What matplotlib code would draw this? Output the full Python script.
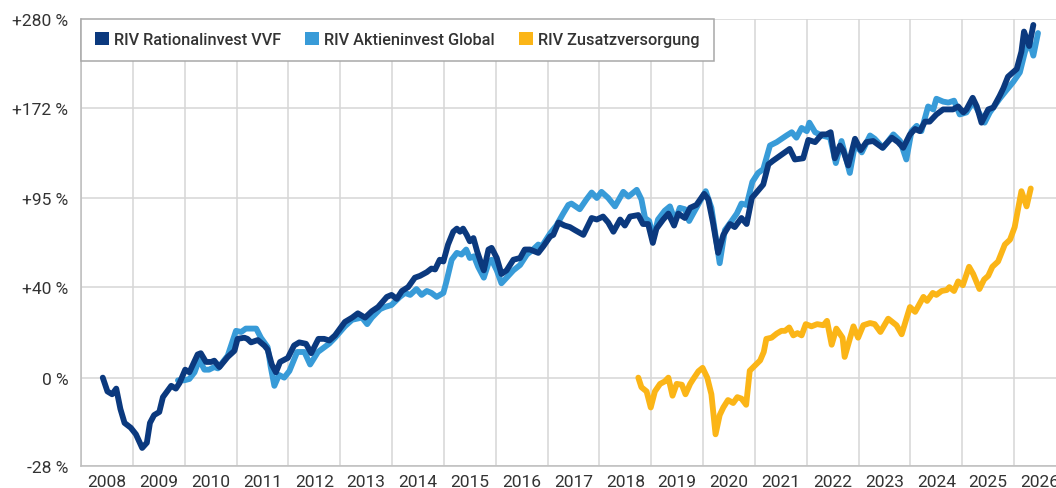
import matplotlib
matplotlib.use("Agg")
import matplotlib.pyplot as plt
from matplotlib.patches import Patch
import numpy as np

# Wertentwicklung in %, Zeitachse als Dezimaljahr
rat_t = [2008.42, 2008.51, 2008.60, 2008.68, 2008.76, 2008.84, 2008.96, 2009.06, 2009.18, 2009.27,
         2009.33, 2009.41, 2009.51, 2009.58, 2009.74, 2009.83, 2009.90, 2010.01, 2010.09, 2010.25,
         2010.31, 2010.41, 2010.51, 2010.57, 2010.67, 2010.83, 2010.96, 2011.02, 2011.15, 2011.21,
         2011.28, 2011.41, 2011.54, 2011.60, 2011.68, 2011.76, 2011.84, 2011.99, 2012.11, 2012.21,
         2012.34, 2012.44, 2012.58, 2012.69, 2012.79, 2012.90, 2013.09, 2013.23, 2013.34, 2013.48,
         2013.61, 2013.73, 2013.90, 2013.99, 2014.09, 2014.19, 2014.31, 2014.44, 2014.54, 2014.67,
         2014.76, 2014.83, 2014.92, 2014.99, 2015.08, 2015.18, 2015.25, 2015.31, 2015.37, 2015.44,
         2015.50, 2015.57, 2015.64, 2015.73, 2015.77, 2015.86, 2015.92, 2016.02, 2016.11, 2016.21,
         2016.34, 2016.47, 2016.56, 2016.66, 2016.82, 2016.92, 2017.05, 2017.11, 2017.21, 2017.33,
         2017.43, 2017.53, 2017.69, 2017.85, 2017.95, 2018.07, 2018.17, 2018.27, 2018.40, 2018.49,
         2018.59, 2018.75, 2018.84, 2018.94, 2019.03, 2019.10, 2019.23, 2019.33, 2019.44, 2019.52,
         2019.65, 2019.75, 2019.87, 2020.02, 2020.10, 2020.19, 2020.29, 2020.39, 2020.52, 2020.61,
         2020.74, 2020.84, 2020.94, 2021.03, 2021.16, 2021.26, 2021.35, 2021.48, 2021.67, 2021.77,
         2021.93, 2022.03, 2022.16, 2022.29, 2022.38, 2022.46, 2022.54, 2022.64, 2022.70, 2022.80,
         2022.93, 2023.04, 2023.15, 2023.28, 2023.46, 2023.64, 2023.76, 2023.86, 2023.99, 2024.09,
         2024.18, 2024.28, 2024.37, 2024.50, 2024.63, 2024.82, 2024.92, 2025.02, 2025.08, 2025.20,
         2025.28, 2025.37, 2025.50, 2025.60, 2025.72, 2025.79, 2025.88, 2026.05, 2026.14, 2026.19,
         2026.29, 2026.37]
rat_v = [0, -5, -6, -4, -11, -15.5, -17, -19, -23, -21.5,
         -15.5, -13, -12, -7, -3, -4, -2, 3, 2, 9,
         9.5, 6, 6, 6.5, 4, 8, 10.5, 15.5, 16, 15.5,
         14, 15, 12.6, 11, 5, 2, 6, 7.6, 12.7, 14,
         13.4, 9.5, 15.5, 15.5, 14.8, 17, 23, 25, 27, 25,
         28, 30, 35, 36, 34, 38, 40, 45, 46, 48,
         50, 49.5, 55, 54, 64, 72, 74, 72, 74, 70,
         66, 68, 60, 52, 49, 61, 62, 56, 47, 49,
         55, 56, 61, 61, 59, 63, 69, 70, 78, 76,
         75, 73, 70, 81, 80, 82, 78, 72, 80, 76,
         82, 83, 77, 77, 65, 74, 80, 84, 76, 84,
         81, 88, 90, 98, 94, 78, 59, 70, 77, 75,
         81, 77, 95, 99, 105, 121, 124, 128, 134, 125,
         126, 142, 140, 147, 147, 149, 126, 137, 133, 120,
         143, 133, 140, 141, 135, 144, 140, 135, 147, 152,
         150, 159, 159, 166, 171, 171, 174, 168, 171, 183,
         174, 158, 171, 173, 185, 193, 206, 215, 236, 262,
         243, 271]

akt_t = [2009.87, 2009.99, 2010.09, 2010.19, 2010.28, 2010.38, 2010.47, 2010.57, 2010.64, 2010.83,
         2010.99, 2011.09, 2011.18, 2011.38, 2011.47, 2011.60, 2011.66, 2011.73, 2011.82, 2011.92,
         2012.02, 2012.17, 2012.31, 2012.42, 2012.57, 2012.79, 2012.90, 2013.09, 2013.23, 2013.42,
         2013.52, 2013.61, 2013.77, 2013.86, 2013.99, 2014.15, 2014.25, 2014.35, 2014.47, 2014.57,
         2014.67, 2014.76, 2014.86, 2014.99, 2015.05, 2015.15, 2015.25, 2015.34, 2015.43, 2015.50,
         2015.58, 2015.66, 2015.77, 2015.86, 2015.92, 2016.02, 2016.11, 2016.21, 2016.34, 2016.47,
         2016.60, 2016.72, 2016.82, 2016.89, 2017.05, 2017.17, 2017.30, 2017.40, 2017.46, 2017.62,
         2017.75, 2017.85, 2017.95, 2018.04, 2018.17, 2018.30, 2018.46, 2018.56, 2018.72, 2018.81,
         2018.88, 2018.96, 2019.04, 2019.13, 2019.26, 2019.36, 2019.46, 2019.55, 2019.65, 2019.73,
         2019.87, 2020.05, 2020.16, 2020.26, 2020.32, 2020.42, 2020.55, 2020.65, 2020.74, 2020.84,
         2020.95, 2021.06, 2021.16, 2021.29, 2021.42, 2021.61, 2021.71, 2021.80, 2021.90, 2022.00,
         2022.05, 2022.16, 2022.29, 2022.45, 2022.56, 2022.67, 2022.83, 2022.93, 2023.06, 2023.22,
         2023.31, 2023.47, 2023.67, 2023.80, 2023.92, 2024.02, 2024.12, 2024.21, 2024.34, 2024.44,
         2024.50, 2024.63, 2024.73, 2024.84, 2024.95, 2025.08, 2025.21, 2025.34, 2025.43, 2025.53,
         2025.72, 2025.85, 2025.98, 2026.11, 2026.21, 2026.30, 2026.37, 2026.46]
akt_v = [-1, -1, -0.5, 2, 7, 3, 3, 4, 3.5, 8.5,
         19, 18.5, 20, 20, 16, 12, 4, -3, 1, 0,
         2.5, 10, 10, 5, 10, 13.5, 16, 21, 24, 25,
         22, 25, 29, 30, 31, 35, 37, 36, 39, 36,
         38, 37, 35, 37, 43, 55, 59, 58, 61, 56,
         57, 51, 45, 53, 55, 49, 42, 45, 49, 52,
         58, 61, 64, 63, 71, 76, 84, 90, 91, 87,
         94, 99, 95, 99.5, 95, 89, 99.5, 96, 101, 94,
         81, 79, 68, 80, 86, 89, 79, 88, 87, 79,
         88, 100, 88, 65, 53, 73, 79, 84, 91, 90,
         107, 114, 117, 137, 140, 146, 149, 144, 153, 150,
         158, 149, 146, 144, 122, 141, 114, 138, 131, 146,
         143, 135, 147, 141, 125, 150, 155, 150, 174, 171,
         182, 179, 178, 180, 166, 168, 179, 166, 158, 168,
         182, 191, 200, 211, 236, 248, 231, 260]

zus_t = [2018.75, 2018.81, 2018.91, 2018.99, 2019.07, 2019.17, 2019.26, 2019.33, 2019.41, 2019.49,
         2019.59, 2019.66, 2019.75, 2019.81, 2019.91, 2019.99, 2020.08, 2020.16, 2020.24, 2020.32,
         2020.39, 2020.48, 2020.58, 2020.66, 2020.74, 2020.83, 2020.90, 2021.00, 2021.10, 2021.17,
         2021.22, 2021.32, 2021.42, 2021.51, 2021.58, 2021.66, 2021.74, 2021.82, 2021.90, 2021.98,
         2022.09, 2022.20, 2022.32, 2022.39, 2022.48, 2022.57, 2022.69, 2022.73, 2022.90, 2022.99,
         2023.09, 2023.22, 2023.31, 2023.42, 2023.57, 2023.73, 2023.83, 2023.99, 2024.09, 2024.25,
         2024.32, 2024.43, 2024.50, 2024.60, 2024.70, 2024.75, 2024.84, 2024.92, 2025.01, 2025.13,
         2025.21, 2025.33, 2025.42, 2025.50, 2025.58, 2025.69, 2025.82, 2025.92, 2026.01, 2026.14,
         2026.24, 2026.32]
zus_v = [0, -3.5, -5, -10.5, -5, -2.3, -1.4, 0, -6.5, -2.3,
         -2.6, -6, -2.3, -0.5, 2.4, 3.7, 0, -6, -19, -13,
         -10.5, -8, -9, -7, -7.5, -9.6, 2.6, 4.6, 6.6, 10,
         15.5, 16, 17.8, 19, 19, 20.5, 17, 18, 17, 22,
         21, 22, 21.5, 23.5, 13, 20, 16, 8, 21, 16,
         21.5, 22.5, 22, 18.5, 24.5, 21.5, 17.5, 30, 27.7, 35,
         33, 37, 36, 38, 38.5, 40, 38, 43, 41, 51,
         47, 39, 44, 46, 51, 54, 64, 67, 75, 100,
         89, 102]

names = ["RIV Rationalinvest VVF", "RIV Aktieninvest Global", "RIV Zusatzversorgung"]
colors = ["#0b397e", "#389bd8", "#fbb517"]

ytick_vals = [-28, 0, 40, 95, 172, 280]
ytick_labels = ["-28 %", "0 %", "+40 %", "+95 %", "+172 %", "+280 %"]
years = list(range(2008, 2027))

plt.rcParams['font.family'] = ['Roboto', 'DejaVu Sans']

fig = plt.figure(figsize=(10.56, 4.89), dpi=100)
ax = fig.add_axes([81 / 1056, 22 / 489, 985 / 1056, 447.5 / 489])

def f(v):
    return 1 + np.array(v) / 100.0

lw = 4.2
ax.plot(akt_t, f(akt_v), color=colors[1], lw=lw, solid_joinstyle='round', solid_capstyle='round', zorder=3)
ax.plot(rat_t, f(rat_v), color=colors[0], lw=lw, solid_joinstyle='round', solid_capstyle='round', zorder=4)
ax.plot(zus_t, f(zus_v), color=colors[2], lw=lw, solid_joinstyle='round', solid_capstyle='round', zorder=4)

ax.set_yscale('log')
ax.set_ylim(f(-28), f(280))
ax.set_yticks(f(ytick_vals))
ax.set_yticklabels(ytick_labels)
ax.yaxis.set_minor_locator(matplotlib.ticker.NullLocator())

ax.set_xlim(2008, 2027)
ax.set_xticks(range(2008, 2028))
ax.set_xticklabels([])
ax.set_xticks([y + 0.5 for y in years], minor=True)
ax.set_xticklabels([str(y) for y in years], minor=True)

ax.tick_params(axis='both', which='both', length=0, labelsize=12.5, labelcolor='#333333')
ax.tick_params(axis='y', pad=9)
ax.tick_params(axis='x', which='minor', pad=6)

ax.grid(True, which='major', color='#d6d6d6', lw=1.1, zorder=0)
for s in ['top', 'right']:
    ax.spines[s].set_visible(False)
for s in ['left', 'bottom']:
    ax.spines[s].set_color('#bdbdbd')
    ax.spines[s].set_linewidth(1.1)

handles = [Patch(facecolor=c, edgecolor='none') for c in colors]
leg = ax.legend(handles, names, loc='upper left', bbox_to_anchor=(0, 1), borderaxespad=0,
                ncol=3, frameon=True, fancybox=False, framealpha=1,
                prop={'size': 11.7, 'weight': 'medium'},
                edgecolor='#a8a8a8', borderpad=0.85, handlelength=0.85, handleheight=0.8,
                handletextpad=0.35, columnspacing=1.45)
leg.get_frame().set_linewidth(1.1)
for t in leg.get_texts():
    t.set_color('#333333')
leg.set_zorder(5)

fig.savefig("out.png", dpi=100)
